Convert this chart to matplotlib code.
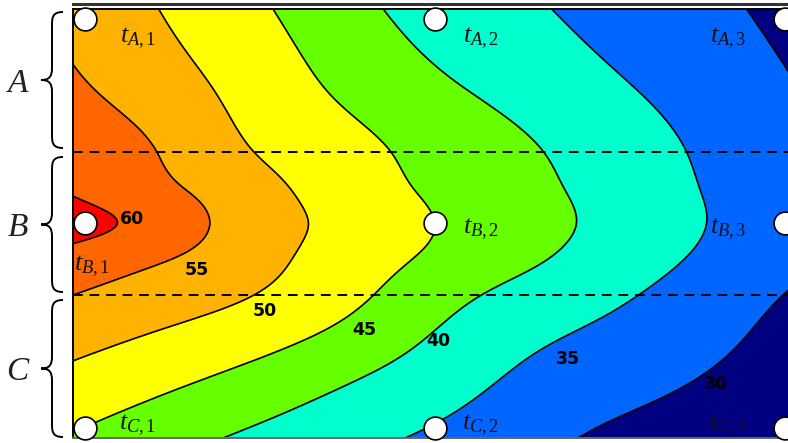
import numpy as np
import matplotlib.pyplot as plt
from matplotlib.path import Path
from matplotlib.patches import PathPatch
from matplotlib.lines import Line2D

plt.rcParams['mathtext.fontset'] = 'custom'
plt.rcParams['mathtext.rm'] = 'Liberation Serif'
plt.rcParams['mathtext.it'] = 'Liberation Serif:italic'

# temperature field (rows top -> bottom, columns left -> right)
x_grid = np.linspace(0, 1, 9)
y_grid = np.array([12, 10, 8, 7, 6, 5, 4, 2, 0]) / 12
temps = np.array([
    [53.6, 49.8, 45.9, 41.6, 38.2, 35.7, 33.3, 31.1, 28.5],
    [55.5, 51.9, 47.9, 43.9, 40.6, 37.9, 35.3, 32.7, 29.9],
    [58.0, 54.7, 50.0, 46.6, 43.5, 40.6, 37.5, 34.3, 31.2],
    [59.4, 55.9, 51.6, 47.7, 44.2, 41.3, 38.1, 34.75, 31.8],
    [61.3, 58.0, 52.2, 48.8, 45.0, 41.8, 38.5, 35.0, 32.2],
    [58.3, 55.3, 51.6, 47.8, 44.1, 40.8, 37.5, 34.2, 31.1],
    [55.0, 52.5, 50.0, 46.4, 42.0, 38.4, 35.7, 32.7, 29.5],
    [49.6, 47.1, 44.5, 41.4, 38.1, 34.7, 32.5, 30.2, 28.0],
    [44.6, 41.8, 39.1, 36.6, 34.2, 31.6, 29.0, 27.5, 26.5],
])

levels = [30, 35, 40, 45, 50, 55, 60]
fill_colors = ['#000080', '#0066ff', '#00ffcc', '#66ff00', '#ffff00',
               '#ffb300', '#ff6600', '#ff0000']

# sensors
sensor_x = [0.0166, 0.5, 0.9834]
sensor_y = [0.977, 0.5, 0.023]
rows = ['A', 'B', 'C']

# label spots for contour values
label_vals = [60, 55, 50, 45, 40, 35, 30]
label_x = [0.0815, 0.171, 0.265, 0.403, 0.504, 0.684, 0.888]
label_y = [0.5105, 0.392, 0.296, 0.252, 0.226, 0.184, 0.126]

# sensor name positions
name_x = [[0.0898, 0.5635, 0.9047], [0.0262, 0.5635, 0.9047], [0.0898, 0.5635, 0.9047]]
name_y = [[0.932, 0.932, 0.932], [0.401, 0.487, 0.487], [0.030, 0.030, 0.030]]


def spline_weights(knots, xo):
    # natural cubic spline as a matrix: values at xo = W @ values at knots
    n = len(knots)
    h = np.diff(knots)
    A = np.zeros((n, n))
    B = np.zeros((n, n))
    A[0, 0] = A[-1, -1] = 1
    for i in range(1, n - 1):
        A[i, i - 1] = h[i - 1] / 6
        A[i, i] = (h[i - 1] + h[i]) / 3
        A[i, i + 1] = h[i] / 6
        B[i, i - 1] = 1 / h[i - 1]
        B[i, i] = -1 / h[i - 1] - 1 / h[i]
        B[i, i + 1] = 1 / h[i]
    M = np.linalg.solve(A, B)
    idx = np.clip(np.searchsorted(knots, xo) - 1, 0, n - 2)
    W = np.zeros((len(xo), n))
    for r, (x, i) in enumerate(zip(xo, idx)):
        hh = knots[i + 1] - knots[i]
        a = (knots[i + 1] - x) / hh
        b = (x - knots[i]) / hh
        W[r, i] += a
        W[r, i + 1] += b
        W[r] += (a ** 3 - a) * hh ** 2 / 6 * M[i] + (b ** 3 - b) * hh ** 2 / 6 * M[i + 1]
    return W


W, H = 788, 443
fig = plt.figure(figsize=(W / 100, H / 100), dpi=100)
ax = fig.add_axes([73 / W, 5 / H, 724 / W, 429 / H])

# smooth field for drawing
yk = y_grid[::-1]
zk = temps[::-1]
xf = np.linspace(0, 1, 400)
yf = np.linspace(0, 1, 300)
zf = spline_weights(yk, yf) @ zk @ spline_weights(x_grid, xf).T

ax.contourf(xf, yf, zf, levels=[0] + levels + [100], colors=fill_colors)
ax.contour(xf, yf, zf, levels=levels, colors='black', linewidths=1.2)

for v, lx, ly in zip(label_vals, label_x, label_y):
    ax.text(lx, ly, str(v), ha='center', va='center', fontsize=12.5,
            fontweight='bold', color='black')

for i, r in enumerate(rows):
    for j in range(3):
        ax.text(name_x[i][j], name_y[i][j], r'$t_{%s,%d}$' % (r, j + 1),
                ha='center', va='center', fontsize=19, color='#111111')

sx, sy = np.meshgrid(sensor_x, sensor_y)
ax.scatter(sx.ravel(), sy.ravel(), s=270, facecolor='white', edgecolor='black',
           linewidth=1.2, zorder=5, clip_on=False)

for yy in [1 / 3, 2 / 3]:
    ax.axhline(yy, color='black', lw=1.4, dashes=(5, 3.5), zorder=4)

ax.set_xlim(0, 1)
ax.set_ylim(0, 1)
ax.set_xticks([])
ax.set_yticks([])
for s in ax.spines.values():
    s.set_linewidth(1.4)
ax.spines['bottom'].set_color('#666666')

# top double rule
fig.add_artist(Line2D([73 / W, 1], [1 - 3.5 / H] * 2, color='#333333', lw=2.2,
                      transform=fig.transFigure))


def brace(y_top, y_bot, x_right=63, x_mid=52, x_tip=41):
    yc = (y_top + y_bot) / 2
    pts = [(x_right, y_top),
           (x_mid, y_top), (x_mid, y_top + 6), (x_mid, y_top + 14),
           (x_mid, yc - 12),
           (x_mid, yc - 3), (x_mid - 3, yc), (x_tip, yc),
           (x_mid - 3, yc), (x_mid, yc + 3), (x_mid, yc + 12),
           (x_mid, y_bot - 14),
           (x_mid, y_bot - 6), (x_mid, y_bot), (x_right, y_bot)]
    codes = [Path.MOVETO,
             Path.CURVE4, Path.CURVE4, Path.CURVE4,
             Path.LINETO,
             Path.CURVE4, Path.CURVE4, Path.CURVE4,
             Path.CURVE4, Path.CURVE4, Path.CURVE4,
             Path.LINETO,
             Path.CURVE4, Path.CURVE4, Path.CURVE4]
    verts = [(px / W, 1 - py / H) for px, py in pts]
    fig.add_artist(PathPatch(Path(verts, codes), facecolor='none',
                             edgecolor='black', lw=1.4, transform=fig.transFigure))


brace_spans = [(12, 148), (157, 292), (300, 437)]
for (yt, yb), r in zip(brace_spans, rows):
    brace(yt, yb)
    fig.text(18 / W, 1 - ((yt + yb) / 2 + 2) / H, r'$%s$' % r, ha='center',
             va='center', fontsize=24, color='#222222')

fig.savefig('out.png', dpi=100)
